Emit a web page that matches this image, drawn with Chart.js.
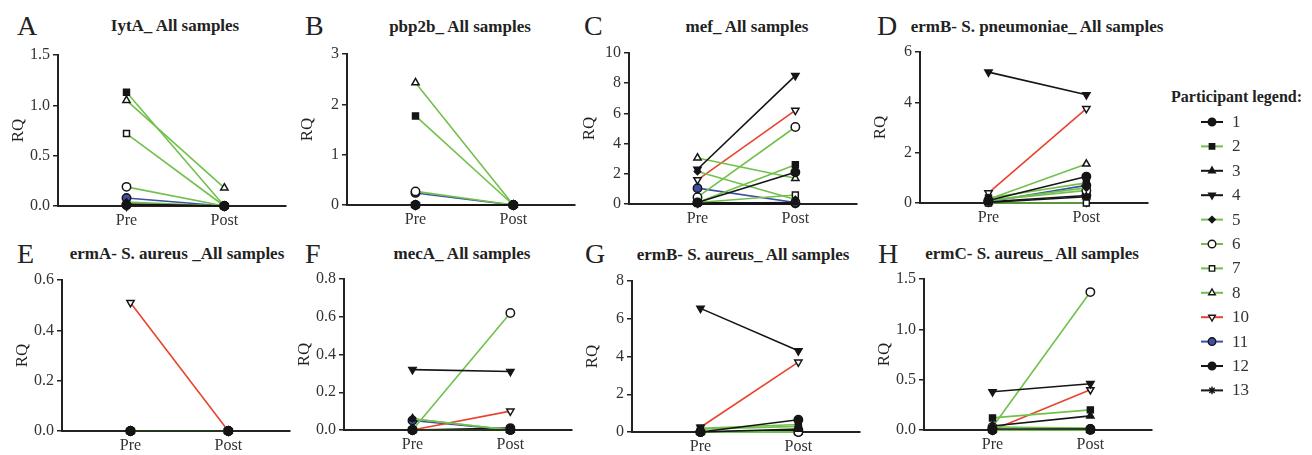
<!DOCTYPE html>
<html lang="en">
<head>
  <meta charset="UTF-8">
  <title>RQ pre/post – all samples</title>
  <script src="https://cdn.jsdelivr.net/npm/chart.js"></script>
  <style>
    body { margin: 0; background: #fff; font-family: 'Liberation Serif', 'DejaVu Serif', 'Times New Roman', serif; }
    #wrap { position: relative; width: 1312px; height: 455px; overflow: hidden; }
    canvas { position: absolute; }
    .letter { position: absolute; font-size: 28px; color: #222; line-height: 1; }
    .title { position: absolute; font-weight: bold; font-size: 17px; color: #222; transform: translateX(-50%); white-space: nowrap; line-height: 18px; }
    .head { position: absolute; left: 1171px; top: 88px; font-weight: bold; font-size: 16px; color: #222; white-space: nowrap; }
    .lb { position: absolute; font-size: 17px; color: #333; line-height: 20px; }
  </style>
</head>
<body>
<div id="wrap"></div>

<script>
  // participants in legend order
  const participants = ['1', '2', '3', '4', '5', '6', '7', '8', '10', '11', '12', '13'];
  const xLabels = ['Pre', 'Post'];

  // RQ values per gene, one entry per participant (Pre / Post)
  const lytaPre   = [0.01, 1.13, 0.02, 0, 0.04, 0.19, 0.72, 1.05, 0, 0.08, 0.01, 0];
  const lytaPost  = [0, 0, 0, 0, 0, 0, 0, 0.18, 0, 0, 0, 0];
  const pbpPre    = [0, 1.77, 0, 0, 0, 0.27, 0, 2.43, 0, 0.24, 0, 0];
  const pbpPost   = [0, 0, 0, 0, 0, 0, 0, 0, 0, 0, 0, 0];
  const mefPre    = [0.1, 0.1, 0.05, 2.3, 2.15, 0.45, 0.1, 3.05, 1.6, 1.05, 0.1, 0];
  const mefPost   = [2.1, 2.6, 0.1, 8.5, 0.3, 5.1, 0.6, 1.7, 6.2, 0.1, 0.05, 0];
  const ermBpnPre  = [0.1, 0.2, 0.02, 5.2, 0.1, 0.1, 0, 0.15, 0.4, 0.05, 0.05, 0];
  const ermBpnPost = [1.05, 0.8, 0.25, 4.3, 0.6, 0.5, 0, 1.55, 3.75, 0.7, 0.3, 0];
  const ermAPre   = [0, 0, 0, 0, 0, 0, 0, 0, 0.51, 0, 0, 0];
  const ermAPost  = [0, 0, 0, 0, 0, 0, 0, 0, 0, 0, 0, 0];
  const mecaPre   = [0, 0, 0, 0.32, 0.06, 0, 0, 0.06, 0, 0.05, 0, 0];
  const mecaPost  = [0, 0, 0, 0.31, 0, 0.62, 0, 0, 0.1, 0, 0.01, 0];
  const ermBsaPre  = [0, 0.2, 0, 6.55, 0.15, 0, 0, 0, 0.25, 0, 0, 0];
  const ermBsaPost = [0.65, 0.4, 0.15, 4.3, 0.3, 0, 0, 0, 3.7, 0, 0.1, 0];
  const ermCPre   = [0.01, 0.12, 0.04, 0.38, 0.03, 0.03, 0, 0, 0, 0, 0, 0];
  const ermCPost  = [0.01, 0.2, 0.14, 0.46, 0.02, 1.37, 0, 0, 0.4, 0, 0.01, 0];

  const panels = [
    { letter: 'A', title: 'IytA_ All samples', pre: lytaPre, post: lytaPost, max: 1.5, step: 0.5, dec: 1 },
    { letter: 'B', title: 'pbp2b_ All samples', pre: pbpPre, post: pbpPost, max: 3, step: 1, dec: 0 },
    { letter: 'C', title: 'mef_ All samples', pre: mefPre, post: mefPost, max: 10, step: 2, dec: 0 },
    { letter: 'D', title: 'ermB- S. pneumoniae_ All samples', pre: ermBpnPre, post: ermBpnPost, max: 6, step: 2, dec: 0 },
    { letter: 'E', title: 'ermA- S. aureus _All samples', pre: ermAPre, post: ermAPost, max: 0.6, step: 0.2, dec: 1 },
    { letter: 'F', title: 'mecA_ All samples', pre: mecaPre, post: mecaPost, max: 0.8, step: 0.2, dec: 1 },
    { letter: 'G', title: 'ermB- S. aureus_ All samples', pre: ermBsaPre, post: ermBsaPost, max: 8, step: 2, dec: 0 },
    { letter: 'H', title: 'ermC- S. aureus_ All samples', pre: ermCPre, post: ermCPost, max: 1.5, step: 0.5, dec: 1 },
  ];

  // where each panel sits on the page
  const spots = [
    { axisX: 58,  top: 55,  lx: 17,  ly: 12,  tx: 175,  ty: 17 },
    { axisX: 347, top: 54,  lx: 305, ly: 12,  tx: 460,  ty: 18 },
    { axisX: 629, top: 53,  lx: 584, ly: 12,  tx: 747,  ty: 18 },
    { axisX: 920, top: 52,  lx: 877, ly: 12,  tx: 1037, ty: 18 },
    { axisX: 62,  top: 280, lx: 17,  ly: 240, tx: 177,  ty: 245 },
    { axisX: 344, top: 279, lx: 305, ly: 240, tx: 462,  ty: 245 },
    { axisX: 632, top: 281, lx: 585, ly: 240, tx: 743,  ty: 246 },
    { axisX: 924, top: 279, lx: 878, ly: 240, tx: 1032, ty: 245 },
  ];

  const GREEN = '#72c04c', RED = '#e8432e', BLUE = '#3d4fa6', BLACK = '#151515';
  const styles = [
    { line: BLACK, shape: 'circle',   fill: BLACK },
    { line: GREEN, shape: 'rect',     fill: BLACK },
    { line: BLACK, shape: 'triangle', fill: BLACK },
    { line: BLACK, shape: 'triangle', fill: BLACK, rot: 180 },
    { line: GREEN, shape: 'rectRot',  fill: BLACK, r: 3.2 },
    { line: GREEN, shape: 'circle',   fill: '#fff' },
    { line: GREEN, shape: 'rect',     fill: '#fff' },
    { line: GREEN, shape: 'triangle', fill: '#fff' },
    { line: RED,   shape: 'triangle', fill: '#fff', rot: 180 },
    { line: BLUE,  shape: 'circle',   fill: BLUE },
    { line: BLACK, shape: 'circle',   fill: BLACK },
    { line: BLACK, shape: 'star',     fill: BLACK },
  ];

  const wrap = document.getElementById('wrap');
  const PLOT_W = 228, PLOT_H = 151, YW = 50, XH = 30, PAD_TOP = 20;
  const serif = "'Liberation Serif', 'DejaVu Serif', 'Times New Roman', serif";

  panels.forEach((p, k) => {
    const s = spots[k];

    const letter = document.createElement('div');
    letter.className = 'letter';
    letter.style.left = s.lx + 'px';
    letter.style.top = s.ly + 'px';
    letter.textContent = p.letter;
    wrap.appendChild(letter);

    const title = document.createElement('div');
    title.className = 'title';
    title.style.left = s.tx + 'px';
    title.style.top = s.ty + 'px';
    title.textContent = p.title;
    wrap.appendChild(title);

    const cv = document.createElement('canvas');
    cv.width = YW + PLOT_W + 6;
    cv.height = PAD_TOP + PLOT_H + XH;
    cv.style.left = (s.axisX - YW) + 'px';
    cv.style.top = (s.top - PAD_TOP) + 'px';
    wrap.appendChild(cv);

    const datasets = participants.map((name, i) => {
      const st = styles[i];
      return {
        label: name,
        data: [{ x: 0, y: p.pre[i] }, { x: 1, y: p.post[i] }],
        borderColor: st.line,
        borderWidth: 1.6,
        pointStyle: st.shape,
        pointRotation: st.rot || 0,
        pointBackgroundColor: st.fill,
        pointBorderColor: BLACK,
        pointBorderWidth: 1.5,
        pointRadius: st.r || 4.2,
        clip: false,
      };
    });

    new Chart(cv, {
      type: 'line',
      data: { datasets },
      options: {
        responsive: false,
        animation: false,
        devicePixelRatio: 1,
        layout: { padding: { top: PAD_TOP, right: 6, left: 0, bottom: 0 } },
        plugins: { legend: { display: false }, tooltip: { enabled: false } },
        scales: {
          x: {
            type: 'linear',
            min: -0.7,
            max: 1.63,
            afterBuildTicks: sc => { sc.ticks = [{ value: 0 }, { value: 1 }]; },
            afterFit: sc => { sc.height = XH; },
            ticks: {
              callback: v => xLabels[v],
              color: '#333',
              font: { family: serif, size: 16 },
              padding: 1,
            },
            grid: { drawOnChartArea: false, drawTicks: true, tickLength: 4, color: '#222', lineWidth: 1.5 },
            border: { display: true, color: '#222', width: 2 },
          },
          y: {
            min: 0,
            max: p.max,
            afterFit: sc => { sc.width = YW; },
            ticks: {
              stepSize: p.step,
              callback: v => v.toFixed(p.dec),
              color: '#333',
              font: { family: serif, size: 16 },
              padding: 3,
            },
            title: {
              display: true,
              text: 'RQ',
              color: '#222',
              font: { family: serif, size: 17 },
              padding: { top: 0, bottom: 2 },
            },
            grid: { drawOnChartArea: false, drawTicks: true, tickLength: 5, color: '#222', lineWidth: 1.5 },
            border: { display: true, color: '#222', width: 2 },
          },
        },
      },
    });
  });

  // participant legend: line swatch + marker drawn with the library's point helper
  const head = document.createElement('div');
  head.className = 'head';
  head.textContent = 'Participant legend:';
  wrap.appendChild(head);

  const lg = document.createElement('canvas');
  lg.width = 40; lg.height = 300;
  lg.style.left = '1195px'; lg.style.top = '108px';
  wrap.appendChild(lg);
  const ctx = lg.getContext('2d');
  participants.forEach((name, i) => {
    const st = styles[i];
    const cy = 14 + i * 24.4;
    ctx.strokeStyle = st.line;
    ctx.lineWidth = 2;
    ctx.beginPath(); ctx.moveTo(6, cy); ctx.lineTo(28, cy); ctx.stroke();
    ctx.fillStyle = st.fill;
    ctx.strokeStyle = BLACK;
    ctx.lineWidth = 1.4;
    Chart.helpers.drawPoint(ctx, { pointStyle: st.shape, rotation: st.rot || 0, radius: st.r || 3.8, borderWidth: 1.4 }, 17, cy);

    const lb = document.createElement('div');
    lb.className = 'lb';
    lb.style.left = '1232px';
    lb.style.top = (108 + cy - 10) + 'px';
    lb.textContent = name;
    wrap.appendChild(lb);
  });
</script>
</body>
</html>
